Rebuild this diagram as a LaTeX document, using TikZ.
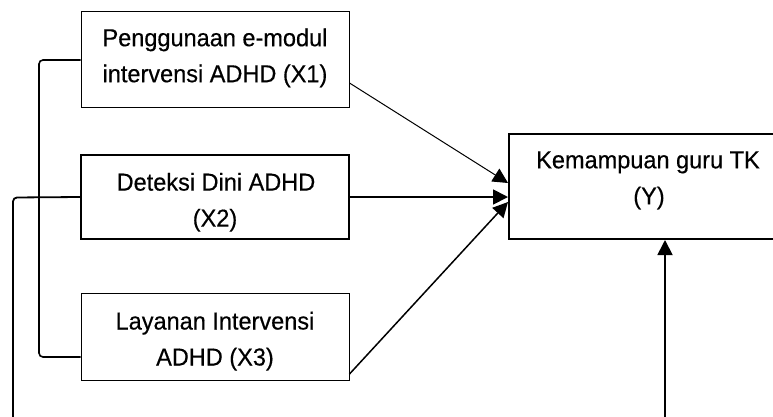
\documentclass[tikz,border=0pt]{standalone}
\usepackage{fontspec}
\setmainfont{Liberation Sans}[FakeStretch=0.96,FakeBold=0.4]
\usetikzlibrary{arrows.meta}
\tikzset{
  varbox/.style={draw, line width=1pt, inner sep=0pt, minimum width=268pt},
  boldbox/.style={varbox, line width=2pt},
  txt/.style={anchor=base, inner sep=0pt, font=\fontsize{24.5}{30}\selectfont},
  link/.style={line width=1.6pt, rounded corners=4pt},
  tip/.style={-{Triangle[length=15pt,width=15pt]}},
}
\begin{document}
\begin{tikzpicture}[x=1pt, y=-1pt]
  \useasboundingbox (0,0) rectangle (773,416);

  % independent variables
  \node[varbox, minimum height=96pt] (x1) at (215,59) {};
  \node[txt] (x1a) at (215,46.2) {Penggunaan e-modul};
  \node[txt] (x1b) at (215,82.2) {intervensi ADHD (X1)};

  \node[boldbox, minimum height=84pt] (x2) at (215,197) {};
  \node[txt] (x2a) at (216,190.6) {Deteksi Dini ADHD};
  \node[txt] (x2b) at (215,226.6) {(X2)};

  \node[varbox, minimum height=87pt] (x3) at (215,336.5) {};
  \node[txt] (x3a) at (215,329.5) {Layanan Intervensi};
  \node[txt] (x3b) at (215,365.5) {ADHD (X3)};

  % dependent variable (right side runs past the edge)
  \node[boldbox, minimum width=278pt, minimum height=105pt] (y) at (648,186.5) {};
  \node[txt] (ya) at (648,168.3) {Kemampuan guru TK};
  \node[txt] (yb) at (649,204.4) {(Y)};

  % direct effects
  \draw[tip, line width=1pt] ([yshift=-24pt]x1.east) -- ([yshift=3.5pt]y.west);
  \draw[tip, line width=1.8pt] (x2.east) -- ([yshift=-10.5pt]y.west);
  \draw[tip, line width=1.5pt] ([yshift=-37.5pt]x3.east) -- ([yshift=-15.5pt]y.west);

  % correlation between X1 and X3
  \coordinate (b1) at (39,60);
  \coordinate (b2) at (39,357);
  \draw[link] ([yshift=-1pt]x1.west) -- (b1) -- (b2) -- ([yshift=-20.5pt]x3.west);

  % joint path from X2 to Y
  \coordinate (c1) at (13,197.5);
  \coordinate (c2) at (13,440);
  \coordinate (c3) at (665,440);
  \draw[link, line width=1.8pt, tip] (x2.west) -- (c1) -- (c2) -- (c3) -- (y.south -| c3);
\end{tikzpicture}
\end{document}
